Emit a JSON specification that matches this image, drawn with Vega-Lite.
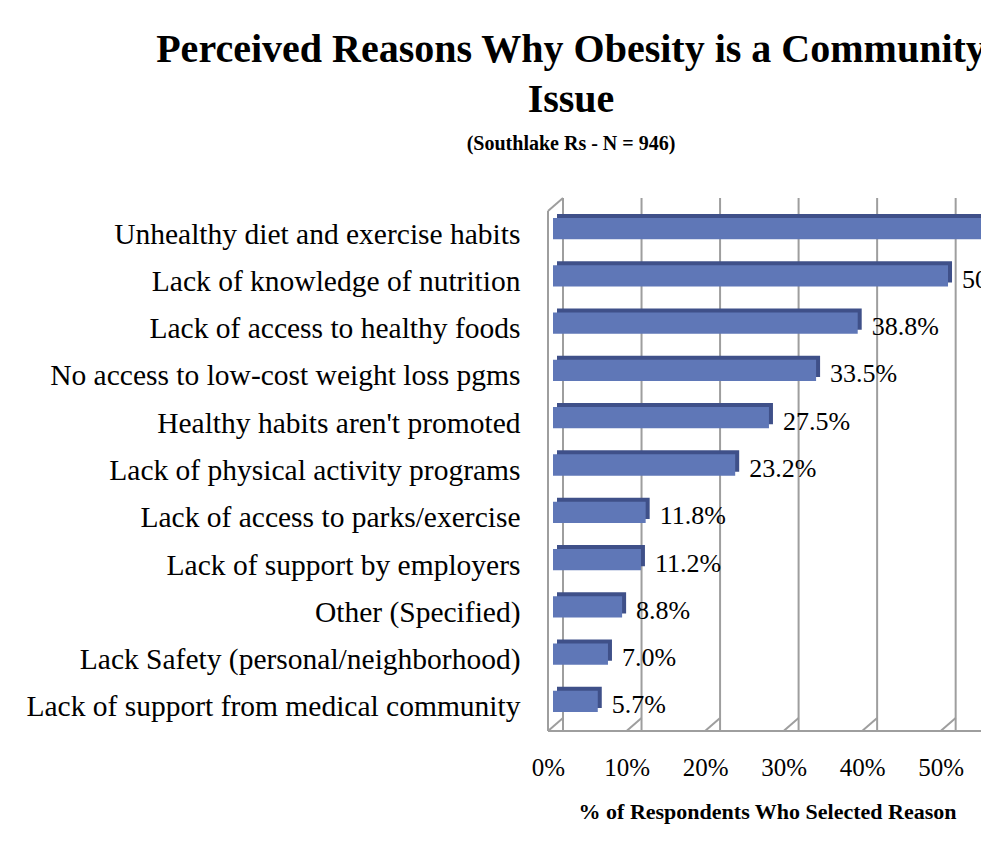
{
  "$schema": "https://vega.github.io/schema/vega-lite/v6.json",
  "width": 428,
  "height": 520,
  "autosize": {"type": "none"},
  "padding": {"left": 553, "top": 211, "right": 0, "bottom": 126},
  "background": "white",
  "title": {
    "text": ["Perceived Reasons Why Obesity is a Community", "Issue"],
    "subtitle": "(Southlake Rs - N = 946)",
    "anchor": "middle",
    "frame": "group",
    "dx": -196,
    "offset": 43,
    "font": "Liberation Serif",
    "fontSize": 40,
    "fontWeight": "bold",
    "color": "black",
    "lineHeight": 50,
    "subtitleFont": "Liberation Serif",
    "subtitleFontSize": 20,
    "subtitleFontWeight": "bold",
    "subtitleColor": "black",
    "subtitlePadding": 14
  },
  "config": {"view": {"stroke": null}},
  "datasets": {
    "reasons": [
      {"reason": "Unhealthy diet and exercise habits", "pct": 62.5},
      {"reason": "Lack of knowledge of nutrition", "pct": 50.3},
      {"reason": "Lack of access to healthy foods", "pct": 38.8},
      {"reason": "No access to low-cost weight loss pgms", "pct": 33.5},
      {"reason": "Healthy habits aren't promoted", "pct": 27.5},
      {"reason": "Lack of physical activity programs", "pct": 23.2},
      {"reason": "Lack of access to parks/exercise", "pct": 11.8},
      {"reason": "Lack of support by employers", "pct": 11.2},
      {"reason": "Other (Specified)", "pct": 8.8},
      {"reason": "Lack Safety (personal/neighborhood)", "pct": 7.0},
      {"reason": "Lack of support from medical community", "pct": 5.7}
    ],
    "grid": [{"pct": 0}, {"pct": 10}, {"pct": 20}, {"pct": 30}, {"pct": 40}, {"pct": 50}],
    "one": [{"pct": 0, "end": 54.5}]
  },
  "layer": [
    {
      "data": {"name": "grid"},
      "mark": {"type": "rule", "color": "#9E9E9E", "strokeWidth": 2, "xOffset": 10, "yOffset": -13, "y2Offset": -13},
      "encoding": {
        "x": {
          "field": "pct", "type": "quantitative",
          "scale": {"domain": [0, 54.5], "nice": false},
          "title": "% of Respondents Who Selected Reason",
          "axis": {
            "values": [0, 10, 20, 30, 40, 50],
            "labelExpr": "datum.value + '%'",
            "grid": false, "domain": false, "ticks": false,
            "labelFlush": false, "labelOverlap": false,
            "labelFont": "Liberation Serif", "labelFontSize": 25, "labelColor": "black",
            "labelPadding": 24, "labelOffset": -5,
            "titleFont": "Liberation Serif", "titleFontSize": 22, "titleFontWeight": "bold",
            "titleColor": "black", "titlePadding": 21
          }
        }
      }
    },
    {
      "data": {"name": "grid"},
      "mark": {"type": "rule", "color": "#9E9E9E", "strokeWidth": 2, "xOffset": 10, "x2Offset": -5, "yOffset": -13},
      "encoding": {
        "x": {"field": "pct", "type": "quantitative", "title": "% of Respondents Who Selected Reason"},
        "x2": {"field": "pct"},
        "y": {"value": "height"},
        "y2": {"value": "height"}
      }
    },
    {
      "data": {"name": "one"},
      "mark": {"type": "rule", "color": "#9E9E9E", "strokeWidth": 2, "xOffset": -5},
      "encoding": {
        "x": {"field": "pct", "type": "quantitative", "title": "% of Respondents Who Selected Reason"}
      }
    },
    {
      "data": {"name": "one"},
      "mark": {"type": "rule", "color": "#9E9E9E", "strokeWidth": 2, "xOffset": -5, "x2Offset": 10, "y2Offset": -13},
      "encoding": {
        "x": {"field": "pct", "type": "quantitative", "title": "% of Respondents Who Selected Reason"},
        "x2": {"field": "pct"},
        "y": {"value": 0},
        "y2": {"value": 0}
      }
    },
    {
      "data": {"name": "one"},
      "mark": {"type": "rule", "color": "#9E9E9E", "strokeWidth": 2, "xOffset": -5},
      "encoding": {
        "x": {"field": "pct", "type": "quantitative", "title": "% of Respondents Who Selected Reason"},
        "x2": {"field": "end"},
        "y": {"value": "height"}
      }
    },
    {
      "data": {"name": "reasons"},
      "mark": {"type": "bar", "color": "#3F5089", "xOffset": 4, "x2Offset": 4, "yOffset": -10, "clip": true},
      "encoding": {
        "y": {
          "field": "reason", "type": "nominal", "sort": null,
          "scale": {"paddingInner": 0.55, "paddingOuter": 0.275},
          "axis": {
            "title": null, "domain": false, "ticks": false, "grid": false,
            "labelFont": "Liberation Serif", "labelFontSize": 29.5, "labelColor": "black",
            "labelPadding": 33, "labelLimit": 700
          }
        },
        "x": {"field": "pct", "type": "quantitative", "title": "% of Respondents Who Selected Reason"}
      }
    },
    {
      "data": {"name": "reasons"},
      "mark": {"type": "bar", "color": "#5F77B7", "yOffset": -6, "clip": true},
      "encoding": {
        "y": {"field": "reason", "type": "nominal", "sort": null},
        "x": {"field": "pct", "type": "quantitative", "title": "% of Respondents Who Selected Reason"}
      }
    },
    {
      "data": {"name": "reasons"},
      "transform": [{"calculate": "format(datum.pct, '.1f') + '%'", "as": "label"}],
      "mark": {"type": "text", "align": "left", "baseline": "middle", "dx": 14, "dy": -2, "font": "Liberation Serif", "fontSize": 26, "color": "black", "clip": true},
      "encoding": {
        "y": {"field": "reason", "type": "nominal", "sort": null},
        "x": {"field": "pct", "type": "quantitative", "title": "% of Respondents Who Selected Reason"},
        "text": {"field": "label"}
      }
    }
  ]
}
